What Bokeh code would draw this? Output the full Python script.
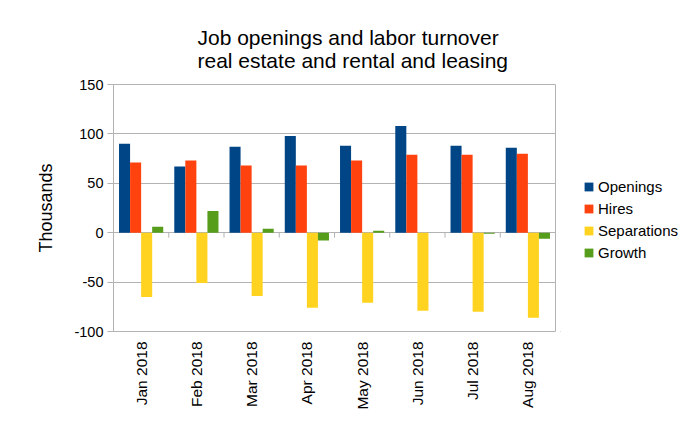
import math
from bokeh.plotting import figure
from bokeh.layouts import row
from bokeh.models import Range1d, ColumnDataSource, Legend, LegendItem, FixedTicker
from bokeh.embed import file_html
from bokeh.resources import INLINE

months = ["Jan 2018", "Feb 2018", "Mar 2018", "Apr 2018",
          "May 2018", "Jun 2018", "Jul 2018", "Aug 2018"]
openings = [90, 67, 87, 98, 88, 108, 88, 86]
hires = [71, 73, 68, 68, 73, 79, 79, 80]
separations = [-65, -51, -64, -76, -71, -79, -80, -86]
growth = [6, 22, 4, -8, 2, 0, -1, -6]
y_ticks = [-100, -50, 0, 50, 100, 150]
y_tick_labels = ["-100", "-50", "0", "50", "100", "150"]

series = [("Openings", openings, "#004586"),
          ("Hires", hires, "#ff420e"),
          ("Separations", separations, "#ffd320"),
          ("Growth", growth, "#579d1c")]

FONT = "Liberation Sans"
GRID = "#b3b3b3"

p = figure(width=560, height=435, output_backend="svg", toolbar_location=None,
           x_range=Range1d(0, len(months)), y_range=Range1d(y_ticks[0], y_ticks[-1]))
p.min_border_left = 113
p.min_border_right = 5
p.min_border_top = 84
p.min_border_bottom = 104
p.outline_line_color = GRID
p.background_fill_color = "white"
p.border_fill_color = "white"

p.title.text = "Job openings and labor turnover\nreal estate and rental and leasing"
p.title.align = "left"
p.title.text_font = FONT
p.title.text_font_size = "21px"
p.title.text_font_style = "normal"
p.title.text_color = "black"
p.title.offset = 84
p.title.standoff = 25

centers = [i + 0.5 for i in range(len(months))]
offsets = [-0.3, -0.1, 0.1, 0.3]
for (name, vals, color), off in zip(series, offsets):
    src = ColumnDataSource(dict(x=[c + off for c in centers], top=vals))
    p.vbar(x="x", top="top", bottom=0, width=0.2, source=src,
           fill_color=color, line_color=None)

# category separator ticks on the zero line
bounds = list(range(1, len(months)))
p.segment(x0=bounds, x1=bounds, y0=[0] * len(bounds), y1=[-5] * len(bounds),
          line_color=GRID, line_width=1)

# axes
p.xgrid.grid_line_color = None
p.ygrid.grid_line_color = GRID
p.yaxis.ticker = FixedTicker(ticks=y_ticks)
p.yaxis.major_label_overrides = {t: s for t, s in zip(y_ticks, y_tick_labels)}
p.yaxis.axis_line_color = GRID
p.yaxis.major_tick_line_color = GRID
p.yaxis.major_tick_out = 6
p.yaxis.major_tick_in = 0
p.yaxis.minor_tick_line_color = None
p.yaxis.major_label_standoff = 4
p.yaxis.major_label_text_font = FONT
p.yaxis.major_label_text_font_size = "14.5px"
p.yaxis.major_label_text_color = "black"
p.yaxis.axis_label = "Thousands"
p.yaxis.axis_label_text_font = FONT
p.yaxis.axis_label_text_font_size = "18px"
p.yaxis.axis_label_text_font_style = "normal"
p.yaxis.axis_label_text_color = "black"
p.yaxis.axis_label_standoff = 15

p.xaxis.ticker = FixedTicker(ticks=centers)
p.xaxis.major_label_overrides = {c: m for c, m in zip(centers, months)}
p.xaxis.major_label_orientation = math.pi / 2
p.xaxis.axis_line_color = None
p.xaxis.major_tick_line_color = None
p.xaxis.minor_tick_line_color = None
p.xaxis.major_tick_out = 0
p.xaxis.major_tick_in = 0
p.xaxis.major_label_standoff = 10
p.xaxis.major_label_text_font = FONT
p.xaxis.major_label_text_font_size = "15.5px"
p.xaxis.major_label_text_color = "black"

# legend panel to the right of the chart (swatch renderers sit outside its view)
lg = figure(width=136, height=435, output_backend="svg", toolbar_location=None,
            x_range=Range1d(0, 1), y_range=Range1d(0, 1))
lg.min_border = 0
lg.axis.visible = False
lg.grid.visible = False
lg.outline_line_color = None
lg.background_fill_color = "white"
lg.border_fill_color = "white"
items = []
for name, vals, color in series:
    r = lg.vbar(x=[-10], top=[-10], bottom=-20, width=0.2,
                fill_color=color, line_color=None)
    items.append(LegendItem(label=name, renderers=[r]))

legend = Legend(items=items, location=(23, 69))
legend.border_line_color = None
legend.background_fill_alpha = 0
legend.padding = 0
legend.margin = 0
legend.spacing = 2
legend.label_height = 20
legend.glyph_width = 11
legend.glyph_height = 11
legend.label_standoff = 4
legend.label_text_font = FONT
legend.label_text_font_size = "15px"
legend.label_text_color = "black"
lg.add_layout(legend, "center")

layout = row(p, lg, spacing=0)
open("out.html", "w").write(file_html(layout, INLINE))
